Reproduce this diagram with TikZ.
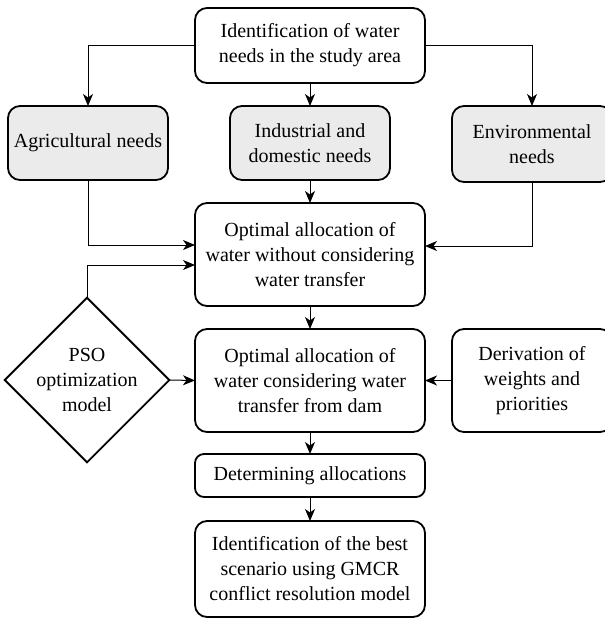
\documentclass[tikz,border=0pt]{standalone}
\usepackage{fontspec}
\setmainfont{Liberation Serif}
\usetikzlibrary{arrows.meta,shapes.geometric}
\definecolor{needgray}{RGB}{235,235,235}
\tikzset{
  box/.style={draw, line width=1.8pt, rounded corners=12pt, align=center, inner sep=2pt, outer sep=0pt,
    font=\fontsize{20}{25}\selectfont},
  needbox/.style={box, fill=needgray},
  decision/.style={draw, line width=1.8pt, diamond, aspect=1, inner sep=0pt, outer sep=0pt, align=center,
    font=\fontsize{20}{25}\selectfont},
  conn/.style={line width=1pt, -{Stealth[length=12pt,width=10pt,inset=3.5pt]}},
}
\begin{document}
\begin{tikzpicture}[x=1pt,y=-1pt]
\useasboundingbox (0,0) rectangle (605,619);
\node[box, minimum width=230pt, minimum height=75pt] (top) at (310,45.5) {Identification of water\\needs in the study area};
\node[needbox, minimum width=160pt, minimum height=74pt] (agri) at (88,143) {Agricultural needs};
\node[needbox, minimum width=160pt, minimum height=74pt] (ind) at (310,143) {Industrial and\\domestic needs};
\node[needbox, minimum width=160pt, minimum height=76pt] (env) at (532,144) {Environmental\\needs};
\node[box, minimum width=230pt, minimum height=103pt] (opt1) at (310,254.5) {Optimal allocation of\\water without considering\\water transfer};
\node[decision, minimum width=154pt, minimum height=156pt] (pso) at (87,380) {PSO\\optimization\\model};
\node[box, minimum width=230pt, minimum height=103pt] (opt2) at (310,380.5) {Optimal allocation of\\water considering water\\transfer from dam};
\node[box, minimum width=160pt, minimum height=103pt] (deriv) at (532,380.5) {Derivation of\\weights and\\priorities};
\node[box, rounded corners=9pt, minimum width=230pt, minimum height=43pt] (det) at (310,475.5) {Determining allocations};
\node[box, minimum width=230pt, minimum height=96pt] (final) at (310,569) {Identification of the best\\scenario using GMCR\\conflict resolution model};

\draw[conn] (top.west) -| (agri.north);
\draw[conn] (top.east) -| (env.north);
\draw[conn] (top.south) -- (ind.north);
\draw[conn] (ind.south) -- (opt1.north);
\draw[conn] (agri.south) |- ([yshift=9.5pt]opt1.west);
\draw[conn] (pso.north) |- ([yshift=-10.5pt]opt1.west);
\draw[conn] (env.south) |- ([yshift=8.5pt]opt1.east);
\draw[conn] (opt1.south) -- (opt2.north);
\draw[conn] (pso.east) -- (opt2.west);
\draw[conn] (deriv.west) -- (opt2.east);
\draw[conn] (opt2.south) -- (det.north);
\draw[conn] (det.south) -- (final.north);
\end{tikzpicture}
\end{document}
